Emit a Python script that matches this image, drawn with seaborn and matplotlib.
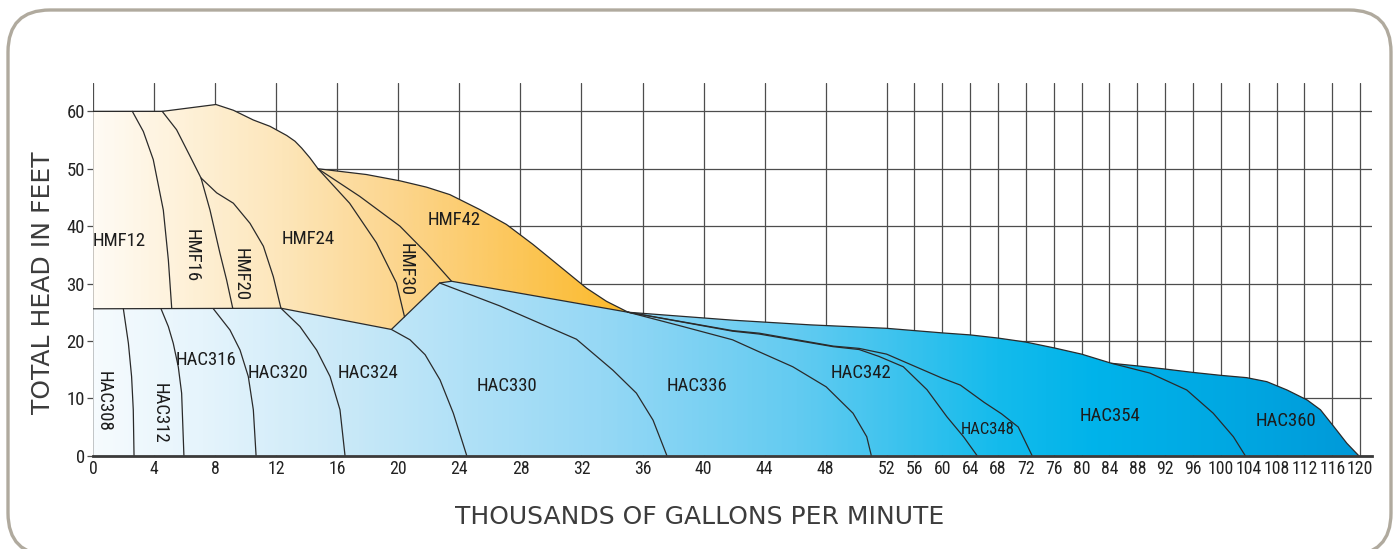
import numpy as np
import matplotlib
matplotlib.use('Agg')
import matplotlib.pyplot as plt
import seaborn as sns
from matplotlib import font_manager
from matplotlib.patches import Polygon, FancyBboxPatch
from matplotlib.colors import LinearSegmentedColormap

# ---- data (thousands of gpm, feet of head) ----
x_ticks = list(range(0, 121, 4))
y_ticks = [0, 10, 20, 30, 40, 50, 60]

# upper envelope of the HMF (mixed flow) family
hmf_top_x = [0, 4.52, 8.04, 9.18, 10.49, 11.58, 12.68, 13.22, 13.66, 14.2, 14.73, 17.9, 20.1, 21.84,
             23.37, 25.33, 27.08, 28.83, 30.58, 32.33, 33.64, 35.06]
hmf_top_y = [60, 60, 61.2, 60.2, 58.5, 57.4, 55.8, 54.8, 53.6, 51.9, 50.0, 49.0, 47.9, 46.8,
             45.5, 42.9, 40.3, 36.8, 33.0, 29.2, 26.9, 25.0]

# boundary between HMF (above) and HAC (below)
bnd_x = [0, 12.3, 19.54, 22.7, 23.48, 35.06]
bnd_y = [25.6, 25.7, 22.0, 30.1, 30.4, 25.0]

# upper envelope of the HAC family right of the junction
hac_top_x = [35.06, 42, 47, 52, 56, 60, 64, 68, 72, 76, 80, 84.3, 88.4, 92, 96.1, 100, 103.7, 106.6,
             109.5, 112.4, 114.3, 116.2, 118.1, 119.8]
hac_top_y = [25.0, 23.6, 22.8, 22.2, 21.8, 21.4, 21.05, 20.5, 19.8, 18.8, 17.7, 16.1, 15.6, 15.1, 14.5,
             14.0, 13.6, 12.9, 11.45, 9.7, 8.0, 5.1, 2.15, 0]

# dividing curves between neighbouring models
hmf12_16_x = [2.56, 3.28, 3.93, 4.59, 4.92, 5.14]
hmf12_16_y = [60, 56.5, 51.6, 42.8, 34.1, 25.7]
hmf16_20_x = [4.52, 5.46, 6.34, 7.06, 7.65, 8.3, 8.74, 9.14]
hmf16_20_y = [60, 56.8, 52.2, 48.4, 42.8, 35.3, 30.6, 25.7]
hmf20_24_x = [7.06, 8.09, 9.18, 10.27, 11.15, 11.8, 12.3]
hmf20_24_y = [48.4, 45.8, 44.0, 40.5, 36.5, 31.2, 25.7]
hmf24_30_x = [14.73, 16.8, 18.56, 19.87, 20.4]
hmf24_30_y = [50.0, 44.0, 37.1, 30.1, 24.2]
hmf30_42_x = [14.73, 17.46, 20.1, 21.84, 23.48]
hmf30_42_y = [50.0, 45.2, 40.0, 35.3, 30.4]

hac308_312_x = [1.97, 2.3, 2.51, 2.62, 2.67]
hac308_312_y = [25.6, 19.6, 13.8, 8.0, 0]
hac312_316_x = [4.44, 4.92, 5.24, 5.57, 5.79, 5.94]
hac312_316_y = [25.6, 22.5, 19.6, 15.5, 10.9, 0]
hac316_320_x = [7.87, 8.96, 9.62, 10.16, 10.49, 10.67]
hac316_320_y = [25.6, 21.9, 18.4, 13.8, 8.0, 0]
hac320_324_x = [12.3, 13.55, 14.64, 15.52, 16.17, 16.5]
hac320_324_y = [25.7, 22.5, 18.4, 13.8, 8.0, 0]
hac324_330_x = [19.54, 20.76, 21.75, 22.73, 23.6, 24.48]
hac324_330_y = [22.0, 20.2, 17.6, 13.2, 7.4, 0]
hac330_336_x = [22.7, 26.65, 31.67, 34.06, 35.6, 36.69, 37.6]
hac330_336_y = [30.1, 26.1, 20.3, 14.9, 10.9, 6.2, 0]
hac336_342_x = [35.06, 38.66, 41.9, 43.65, 45.85, 48.04, 49.8, 50.7, 51.0]
hac336_342_y = [25.0, 22.5, 20.2, 18.1, 15.5, 12.0, 7.4, 3.3, 0]
hac342_348_x = [35.06, 41.9, 43.65, 48.5, 50.2, 51.5, 54.4, 57.8, 60.65, 63.05, 65.0]
hac342_348_y = [25.0, 21.7, 21.2, 19.0, 18.5, 17.3, 15.5, 11.5, 6.8, 3.3, 0]
hac348_354_x = [35.06, 41.9, 43.65, 48.5, 50.2, 52, 56, 60, 62.6, 66, 68.5, 70.9, 72.9]
hac348_354_y = [25.0, 21.8, 21.35, 19.1, 18.7, 17.7, 15.6, 13.5, 12.3, 9.3, 7.3, 5.0, 0]
hac354_360_x = [84.3, 89.8, 95.1, 98.9, 101.8, 103.5]
hac354_360_y = [16.1, 14.4, 11.45, 7.4, 3.3, 0]

# model labels: name, x, y, rotation
label_names = ['HMF12', 'HMF16', 'HMF20', 'HMF24', 'HMF30', 'HMF42',
               'HAC308', 'HAC312', 'HAC316', 'HAC320', 'HAC324', 'HAC330',
               'HAC336', 'HAC342', 'HAC348', 'HAC354', 'HAC360']
label_x = [1.7, 6.45, 9.66, 14.1, 20.5, 23.67, 0.7, 4.37, 7.39, 12.1, 18.0, 27.1, 39.6, 50.3, 66.5, 84.1, 109.4]
label_y = [37.4, 34.8, 31.6, 37.7, 32.5, 41.1, 9.4, 7.4, 16.7, 14.4, 14.4, 12.2, 12.2, 14.4, 4.5, 6.9, 6.1]
label_rot = [0, -90, -90, 0, -90, 0, -90, -90, 0, 0, 0, 0, 0, 0, 0, 0, 0]

# ---- style ----
sns.set_style('white')
avail = {f.name for f in font_manager.fontManager.ttflist}
narrow = next((f for f in ['Liberation Sans Narrow', 'Roboto Condensed', 'Open Sans Condensed']
               if f in avail), 'DejaVu Sans')
plt.rcParams['font.family'] = [narrow, 'DejaVu Sans']

W, H = 1399, 549
fig = plt.figure(figsize=(W / 100, H / 100), dpi=100)

# rounded frame behind everything
bg = fig.add_axes([0, 0, 1, 1], zorder=-1)
bg.set_xlim(0, W)
bg.set_ylim(H, 0)
bg.axis('off')
bg.add_patch(FancyBboxPatch((8, 10), 1383, 545, boxstyle='round,pad=0,rounding_size=42',
                            fc='white', ec='#b0aa9e', lw=2.4))

left, right, bottom, top = 93.3, 1372, 455.7, 82.7
ax = fig.add_axes([left / W, (H - bottom) / H, (right - left) / W, (bottom - top) / H])
ax.patch.set_alpha(0)

# x scale: linear to 52, compressed beyond
BRK, K = 52.0, 0.4565


def fwd(x):
    x = np.asarray(x, dtype=float)
    return np.where(x <= BRK, x, BRK + (x - BRK) * K)


def inv(u):
    u = np.asarray(u, dtype=float)
    return np.where(u <= BRK, u, BRK + (u - BRK) / K)


ax.set_xscale('function', functions=(fwd, inv))


def grad_fill(xs, ys, stops):
    poly = Polygon(np.column_stack([xs, ys]), closed=True, fc='none', ec='none')
    ax.add_patch(poly)
    cmap = LinearSegmentedColormap.from_list('g', stops)
    im = ax.imshow(np.linspace(0, 1, 600)[None, :], cmap=cmap, extent=[0, 1, 0, 1],
                   transform=ax.transAxes, aspect='auto', zorder=1, interpolation='bilinear')
    im.set_clip_path(poly)


span = right - left
hmf_stops = [(0.0, '#fffbf4'), ((280 - left) / span, '#fde6ba'), ((400 - left) / span, '#fcd58c'),
             ((520 - left) / span, '#fcc658'), ((640 - left) / span, '#fbb824'), (1.0, '#f9a800')]
hac_stops = [(0.0, '#f6fbfe'), ((200 - left) / span, '#e5f4fc'), ((340 - left) / span, '#cae9f8'),
             ((460 - left) / span, '#b1e1f7'), ((600 - left) / span, '#96d8f5'),
             ((800 - left) / span, '#62cbf1'), ((900 - left) / span, '#3cc3ee'),
             ((1000 - left) / span, '#14bbec'), ((1100 - left) / span, '#00b3ea'),
             ((1250 - left) / span, '#00a6e1'), (1.0, '#0098d8')]

hmf_px = hmf_top_x + bnd_x[::-1]
hmf_py = hmf_top_y + bnd_y[::-1]
grad_fill(hmf_px, hmf_py, hmf_stops)

hac_px = bnd_x + hac_top_x[1:] + [0]
hac_py = bnd_y + hac_top_y[1:] + [0]
grad_fill(hac_px, hac_py, hac_stops)

line_kw = dict(ax=ax, color='#2a2a2a', linewidth=0.9, estimator=None, sort=False, legend=False)
curves = [
    (hmf_top_x, hmf_top_y), (bnd_x, bnd_y), (hac_top_x, hac_top_y),
    (hmf12_16_x, hmf12_16_y), (hmf16_20_x, hmf16_20_y), (hmf20_24_x, hmf20_24_y),
    (hmf24_30_x, hmf24_30_y), (hmf30_42_x, hmf30_42_y),
    (hac308_312_x, hac308_312_y), (hac312_316_x, hac312_316_y), (hac316_320_x, hac316_320_y),
    (hac320_324_x, hac320_324_y), (hac324_330_x, hac324_330_y), (hac330_336_x, hac330_336_y),
    (hac336_342_x, hac336_342_y), (hac342_348_x, hac342_348_y), (hac348_354_x, hac348_354_y),
    (hac354_360_x, hac354_360_y),
]
for cx, cy in curves:
    sns.lineplot(x=cx, y=cy, **line_kw).lines[-1].set_zorder(3)

for name, lx, ly, rot in zip(label_names, label_x, label_y, label_rot):
    fs = 12 if name == 'HAC348' else 13.5
    ax.text(lx, ly, name, ha='center', va='center', rotation=rot, fontsize=fs,
            color='#1c1c1c', zorder=4)

# grid, axes
ax.set_xlim(0, 121.7)
ax.set_ylim(0, 65)
ax.set_xticks(x_ticks)
ax.set_xticklabels([str(t) for t in x_ticks])
ax.set_yticks(y_ticks)
ax.grid(True, color='#4d4d4d', linewidth=0.9, zorder=0)
ax.set_axisbelow(True)
for s in ['top', 'right', 'left']:
    ax.spines[s].set_visible(False)
ax.spines['bottom'].set_color('#3a3a3a')
ax.spines['bottom'].set_linewidth(2.0)
ax.spines['bottom'].set_zorder(5)
ax.tick_params(axis='x', length=0, pad=3, labelsize=12.8, labelcolor='#222222')
ax.tick_params(axis='y', length=4, width=0.9, color='#4d4d4d', pad=2, labelsize=13.5,
               labelcolor='#222222', left=True)

fig.text(42.7 / W, 1 - 282.5 / H, 'TOTAL HEAD IN FEET', rotation=90, ha='center', va='center',
         fontsize=18, family='DejaVu Sans', color='#3c3c3c')
fig.text(700 / W, 1 - 517.5 / H, 'THOUSANDS OF GALLONS PER MINUTE', ha='center', va='center',
         fontsize=18, family='DejaVu Sans', color='#3c3c3c')

fig.savefig('out.png', dpi=100)
